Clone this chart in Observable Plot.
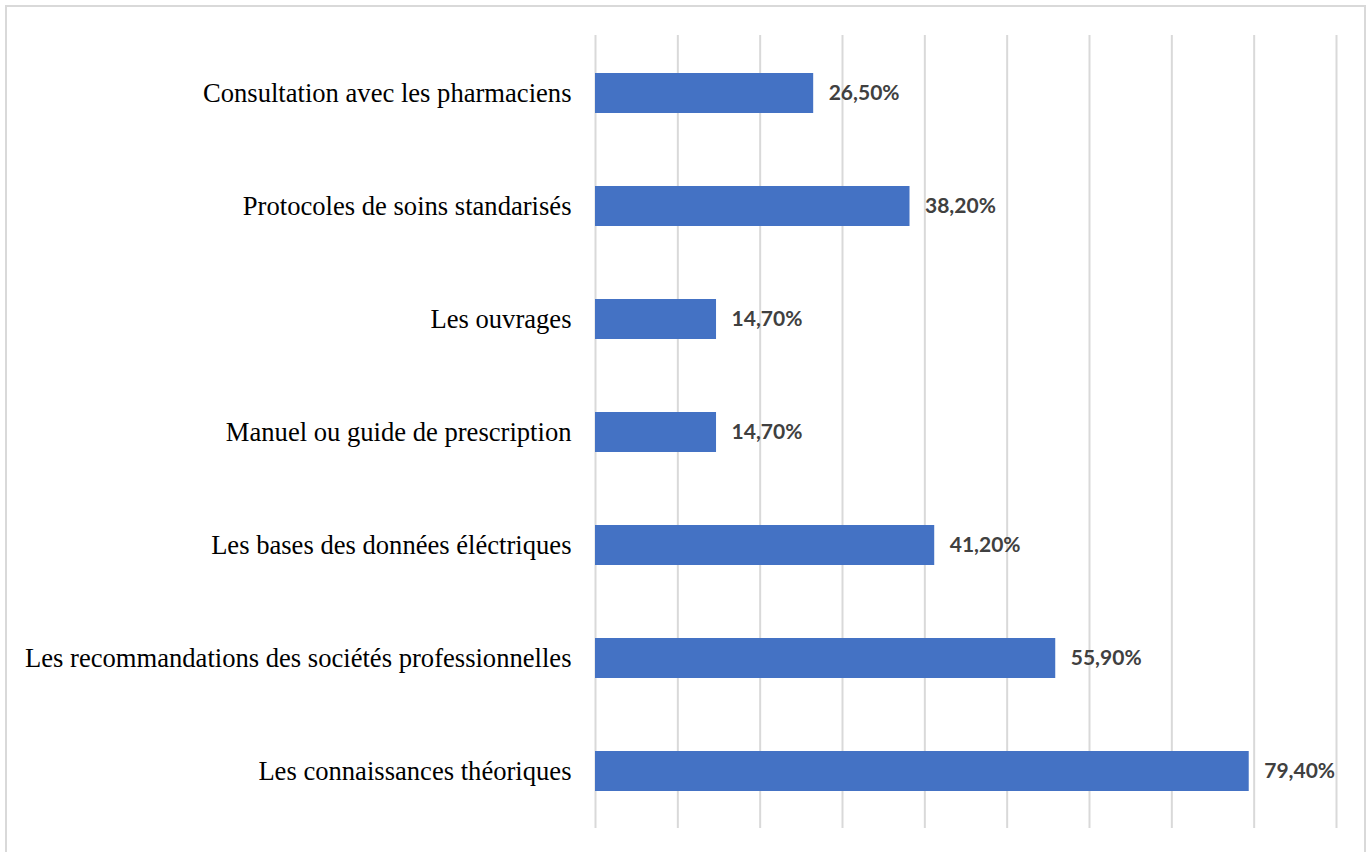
<!DOCTYPE html>
<html>
<head>
<meta charset="utf-8">
<script src="https://cdn.jsdelivr.net/npm/d3@7"></script>
<script src="https://cdn.jsdelivr.net/npm/@observablehq/plot@0.6"></script>
<style>
  html, body { margin: 0; padding: 0; background: #fff; overflow: hidden; }
  #wrap { position: relative; width: 1371px; height: 852px; }
  #border { position: absolute; left: 5px; top: 5px; width: 1361px; height: 900px; border: 2px solid #d9d9d9; box-sizing: border-box; }
  #chart { position: absolute; left: 0; top: 0; }
</style>
</head>
<body>
<div id="wrap"><div id="border"></div><div id="chart"></div></div>
<script>
const categories = [
  "Consultation avec les pharmaciens",
  "Protocoles de soins standarisés",
  "Les ouvrages",
  "Manuel ou guide de prescription",
  "Les bases des données éléctriques",
  "Les recommandations des sociétés professionnelles",
  "Les connaissances théoriques"
];
const values = [26.5, 38.2, 14.7, 14.7, 41.2, 55.9, 79.4];
const gridTicks = [0, 10, 20, 30, 40, 50, 60, 70, 80, 90];

const data = categories.map((c, i) => ({category: c, value: values[i]}));
const fmt = v => v.toFixed(2).replace(".", ",") + "%";

const plot = Plot.plot({
  width: 1371,
  height: 852,
  marginLeft: 595,
  marginRight: 35,
  marginTop: 35,
  marginBottom: 24,
  style: {fontFamily: "'Liberation Serif', 'Times New Roman', serif", background: "transparent"},
  x: {domain: [0, 90], axis: null},
  y: {domain: categories, paddingInner: 0.65, paddingOuter: 0.325, label: null},
  marks: [
    Plot.gridX(gridTicks, {stroke: "#d9d9d9", strokeOpacity: 1, strokeWidth: 2}),
    Plot.barX(data, {x: "value", y: "category", fill: "#4472C4"}),
    Plot.text(data, {x: "value", y: "category", text: d => fmt(d.value), textAnchor: "start", dx: 15,
      fill: "#404040", fontWeight: "bold", fontSize: 21, fontFamily: "Lato, 'Open Sans', sans-serif"}),
    Plot.axisY({tickSize: 0, tickPadding: 24, fontSize: 26.6, fill: "#000", label: null})
  ]
});
document.getElementById("chart").appendChild(plot);
</script>
</body>
</html>
